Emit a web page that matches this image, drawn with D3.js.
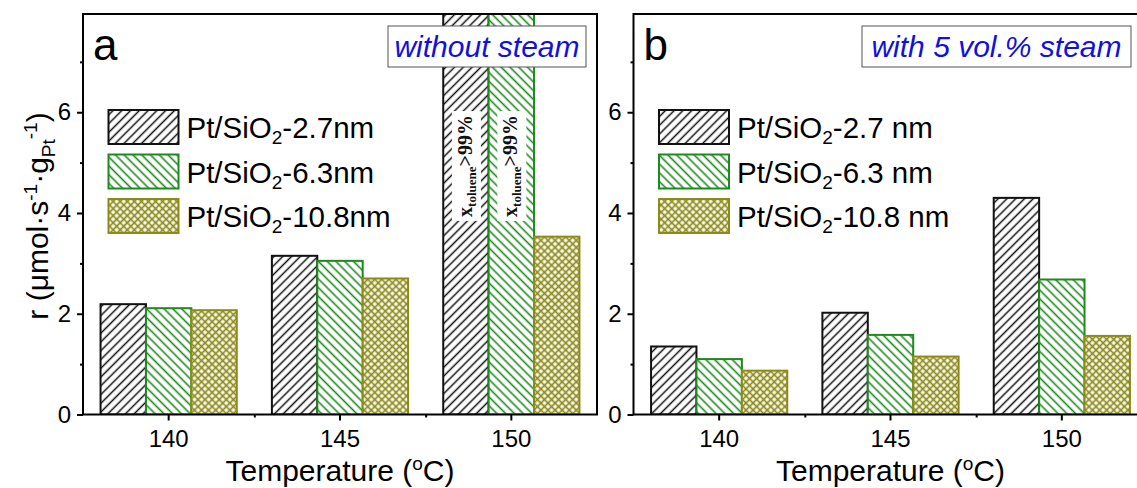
<!DOCTYPE html>
<html><head><meta charset="utf-8">
<script src="https://cdn.jsdelivr.net/npm/d3@7/dist/d3.min.js"></script>
<style>
html,body{margin:0;padding:0;background:#fff;}
svg{display:block;font-family:"Liberation Sans",Arial,sans-serif;}
</style></head>
<body><svg id="chart" width="1137" height="488"></svg>
<script>
// ---------------- data ----------------
const categories = ["140", "145", "150"];           // temperature (°C)
const seriesIds = ["s27", "s63", "s108"];
const legendNoSteam = ["-2.7nm", "-6.3nm", "-10.8nm"];
const legendSteam = ["-2.7 nm", "-6.3 nm", "-10.8 nm"];
// without steam (panel a); 150 °C values of 2.7 and 6.3 nm are off-scale (x_toluene > 99%)
const noSteam27 = [2.19, 3.15, 9.0];
const noSteam63 = [2.11, 3.05, 9.0];
const noSteam108 = [2.07, 2.70, 3.53];
// with 5 vol.% steam (panel b)
const steam27 = [1.35, 2.02, 4.30];
const steam63 = [1.10, 1.58, 2.68];
const steam108 = [0.87, 1.15, 1.56];
const yTicks = [0, 2, 4, 6];
const yMinorTicks = [1, 3, 5, 7];
const yMax = 7.95;
const annotation = { main: "x", sub: "toluene", tail: ">99%" };

// ---------------- style ----------------
const colors = { s27: "#111111", s63: "#1e8a1e", s108: "#8c8a18" };
const svg = d3.select("#chart");
const defs = svg.append("defs");

function makePattern(id, color, angle, spacing, sw, cross) {
  const p = defs.append("pattern").attr("id", id)
    .attr("patternUnits", "userSpaceOnUse")
    .attr("width", spacing).attr("height", spacing)
    .attr("patternTransform", `rotate(${angle})`);
  p.append("rect").attr("width", spacing).attr("height", spacing).attr("fill", "#fff");
  p.append("line").attr("x1", spacing / 2).attr("x2", spacing / 2).attr("y1", -1).attr("y2", spacing + 1)
    .attr("stroke", color).attr("stroke-width", sw);
  if (cross) p.append("line").attr("y1", spacing / 2).attr("y2", spacing / 2).attr("x1", -1).attr("x2", spacing + 1)
    .attr("stroke", color).attr("stroke-width", sw);
}
makePattern("p-s27", colors.s27, 45, 6.2, 1.5, false);
makePattern("p-s63", colors.s63, -45, 6.2, 1.6, false);
makePattern("p-s108", colors.s108, 45, 5.0, 1.7, true);

function panel(opts) {
  const { x0, x1, top, bottom, data, letter, title, titleBox, legendTails, id, annotate } = opts;
  const g = svg.append("g");
  const x = d3.scaleBand().domain(categories).range([x0, x1]).paddingInner(0.205).paddingOuter(0.1025);
  const xs = d3.scaleBand().domain(seriesIds).range([0, x.bandwidth()]).padding(0);
  const y = d3.scaleLinear().domain([0, yMax]).range([bottom, top]);

  defs.append("clipPath").attr("id", "clip-" + id).append("rect")
    .attr("x", x0).attr("y", top).attr("width", x1 - x0).attr("height", bottom - top);

  const rows = [];
  categories.forEach((c, i) => seriesIds.forEach((s, j) => rows.push({ c, s, v: data[j][i] })));
  g.append("g").attr("clip-path", `url(#clip-${id})`).selectAll("rect").data(rows).join("rect")
    .attr("x", d => x(d.c) + xs(d.s))
    .attr("y", d => y(d.v))
    .attr("width", xs.bandwidth())
    .attr("height", d => y(0) - y(d.v))
    .attr("fill", d => `url(#p-${d.s})`)
    .attr("stroke", d => colors[d.s]).attr("stroke-width", 2);

  // annotation on off-scale bars
  if (annotate) {
    annotate.forEach(s => {
      const cx = x("150") + xs(s) + xs.bandwidth() / 2 + 6;
      const cy = 166;
      const ag = g.append("g").attr("transform", `translate(${cx},${cy}) rotate(-90)`);
      const bg = ag.append("rect").attr("fill", "#fff");
      const t = ag.append("text").attr("text-anchor", "middle")
        .attr("font-family", "'Liberation Serif','Times New Roman',serif")
        .attr("font-weight", "bold").attr("font-size", 20).attr("fill", "#111");
      t.append("tspan").text(annotation.main);
      t.append("tspan").attr("font-size", 13).attr("dy", 4).text(annotation.sub);
      t.append("tspan").attr("dy", -4).text(annotation.tail);
      const bb = t.node().getBBox();
      bg.attr("x", bb.x - 4).attr("y", bb.y - 2).attr("width", bb.width + 8).attr("height", bb.height + 4);
    });
  }

  // axes
  const yAxis = d3.axisLeft(y).tickValues(yTicks).tickSize(6).tickSizeOuter(0).tickPadding(6).tickFormat(d3.format("d"));
  const ya = g.append("g").attr("transform", `translate(${x0},0)`).call(yAxis);
  const yMinor = d3.axisLeft(y).tickValues(yMinorTicks).tickSize(3).tickSizeOuter(0).tickFormat("");
  const ym = g.append("g").attr("transform", `translate(${x0},0)`).call(yMinor);
  const xAxis = d3.axisBottom(x).tickSize(6).tickSizeOuter(0).tickPadding(9);
  const xa = g.append("g").attr("transform", `translate(0,${bottom})`).call(xAxis);
  const bounds = categories.slice(1).map(c => x(c) - x.step() * x.paddingInner() / 2);
  const xMinor = d3.axisBottom(d3.scaleLinear().domain([x0, x1]).range([x0, x1])).tickValues(bounds).tickSize(3).tickSizeOuter(0).tickFormat("");
  const xm = g.append("g").attr("transform", `translate(0,${bottom})`).call(xMinor);
  [ya, ym, xa, xm].forEach(a => {
    a.select(".domain").remove();
    a.selectAll("line").attr("stroke", "#000").attr("stroke-width", 2);
    a.selectAll("text").attr("font-size", 24).attr("font-family", "'Liberation Sans',Arial,sans-serif").attr("fill", "#000");
  });

  // frame
  g.append("rect").attr("x", x0).attr("y", top).attr("width", x1 - x0).attr("height", bottom - top)
    .attr("fill", "none").attr("stroke", "#000").attr("stroke-width", 2);

  // panel letter
  g.append("text").attr("x", x0 + 10).attr("y", 60).attr("font-size", 44).attr("fill", "#000").text(letter);

  // condition box
  g.append("rect").attr("x", titleBox[0]).attr("y", 26)
    .attr("width", titleBox[1] - titleBox[0]).attr("height", 41)
    .attr("fill", "#fff").attr("stroke", "#555").attr("stroke-width", 1);
  g.append("text").attr("x", (titleBox[0] + titleBox[1]) / 2).attr("y", 56.5)
    .attr("text-anchor", "middle").attr("font-style", "italic").attr("font-size", 30).attr("fill", "#1010e0").text(title);

  // legend
  seriesIds.forEach((s, i) => {
    const ly = 110 + i * 44.5;
    g.append("rect").attr("x", x0 + 25.5).attr("y", ly).attr("width", 70).attr("height", 34)
      .attr("fill", `url(#p-${s})`).attr("stroke", colors[s]).attr("stroke-width", 2);
    const t = g.append("text").attr("x", x0 + 103.5).attr("y", ly + 28).attr("font-size", 29.5).attr("fill", "#000");
    t.append("tspan").text("Pt/SiO");
    t.append("tspan").attr("font-size", 19).attr("dy", 6).text("2");
    t.append("tspan").attr("dy", -6).text(legendTails[i]);
  });

  // x title
  const xt = g.append("text").attr("x", x("145") + x.bandwidth() / 2).attr("y", 481)
    .attr("text-anchor", "middle").attr("font-size", 30).attr("fill", "#000");
  xt.append("tspan").text("Temperature (");
  xt.append("tspan").attr("font-size", 19).attr("dy", -11).text("o");
  xt.append("tspan").attr("dy", 11).text("C)");
  return { x, y };
}

panel({ id: "a", x0: 83, x1: 597, top: 14, bottom: 414.5, data: [noSteam27, noSteam63, noSteam108],
  letter: "a", title: "without steam", titleBox: [388, 586], legendTails: legendNoSteam, annotate: ["s27", "s63"] });
panel({ id: "b", x0: 633.5, x1: 1147.5, top: 14, bottom: 414.5, data: [steam27, steam63, steam108],
  letter: "b", title: "with 5 vol.% steam", titleBox: [862, 1131], legendTails: legendSteam });

// y-axis title
const yt = svg.append("text").attr("transform", "translate(48,216) rotate(-90)")
  .attr("text-anchor", "middle").attr("font-size", 30).attr("fill", "#000");
yt.append("tspan").text("r (\u03bcmol\u00b7s");
yt.append("tspan").attr("font-size", 19).attr("dy", -11).text("-1");
yt.append("tspan").attr("dy", 11).text("\u00b7g");
yt.append("tspan").attr("font-size", 19).attr("dy", 7).text("Pt");
yt.append("tspan").attr("font-size", 19).attr("dy", -18).text("-1");
yt.append("tspan").attr("dy", 11).text(")");
</script>
</body></html>
